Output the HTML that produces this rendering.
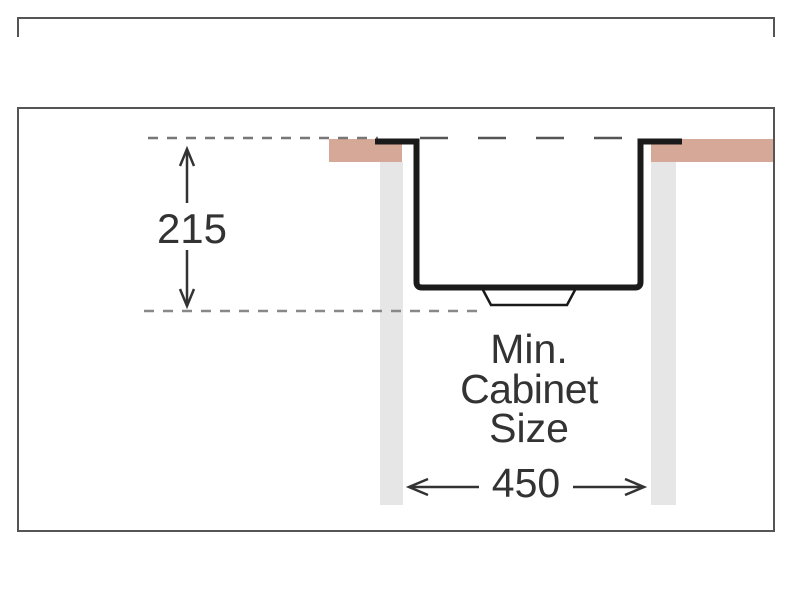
<!DOCTYPE html>
<html><head><meta charset="utf-8"><style>
html,body{margin:0;padding:0;background:#fff;}
svg{display:block;}
text{font-family:"Liberation Sans",sans-serif;fill:#333;}
</style></head><body>
<svg width="795" height="602" viewBox="0 0 795 602" xmlns="http://www.w3.org/2000/svg">
<polyline points="18,37 18,18 774,18 774,37" fill="none" stroke="#555" stroke-width="2"/>
<rect x="18" y="108" width="756" height="423" fill="#fff" stroke="#555" stroke-width="2"/>
<rect x="329" y="139" width="73" height="23" fill="#d5a898"/>
<rect x="651" y="139" width="122" height="23" fill="#d5a898"/>
<rect x="380" y="162" width="23" height="343" fill="#e6e6e6"/>
<rect x="651" y="162" width="25" height="343" fill="#e6e6e6"/>
<line x1="148" y1="138" x2="378" y2="138" stroke="#777" stroke-width="2.5" stroke-dasharray="10,9"/>
<line x1="420" y1="138" x2="636" y2="138" stroke="#555" stroke-width="2.5" stroke-dasharray="28,30"/>
<line x1="144" y1="311" x2="482" y2="311" stroke="#888" stroke-width="2.5" stroke-dasharray="10,9"/>
<path d="M375,141.5 H416.5 V282 Q416.5,287.5 422,287.5 H635 Q640.5,287.5 640.5,282 V141.5 H682" fill="none" stroke="#1a1a1a" stroke-width="6"/>
<path d="M483,290 L491,305 H567 L575,290" fill="none" stroke="#1a1a1a" stroke-width="2.5"/>
<g stroke="#333" stroke-width="2.5" fill="none">
<line x1="187" y1="150" x2="187" y2="203"/>
<polyline points="180,166 187,149 194,166"/>
<line x1="187" y1="250" x2="187" y2="305"/>
<polyline points="180,289 187,306 194,289"/>
<line x1="410" y1="487" x2="479" y2="487"/>
<polyline points="428,479 409,487 428,495"/>
<line x1="573" y1="487" x2="643" y2="487"/>
<polyline points="625,479 644,487 625,495"/>
</g>
<text x="192" y="243" font-size="42" text-anchor="middle">215</text>
<text x="529" y="363" font-size="41" text-anchor="middle">Min.</text>
<text x="529" y="403" font-size="41" text-anchor="middle" letter-spacing="-0.5">Cabinet</text>
<text x="529" y="442" font-size="41" text-anchor="middle">Size</text>
<text x="526" y="497" font-size="41" text-anchor="middle">450</text>
</svg>
</body></html>
